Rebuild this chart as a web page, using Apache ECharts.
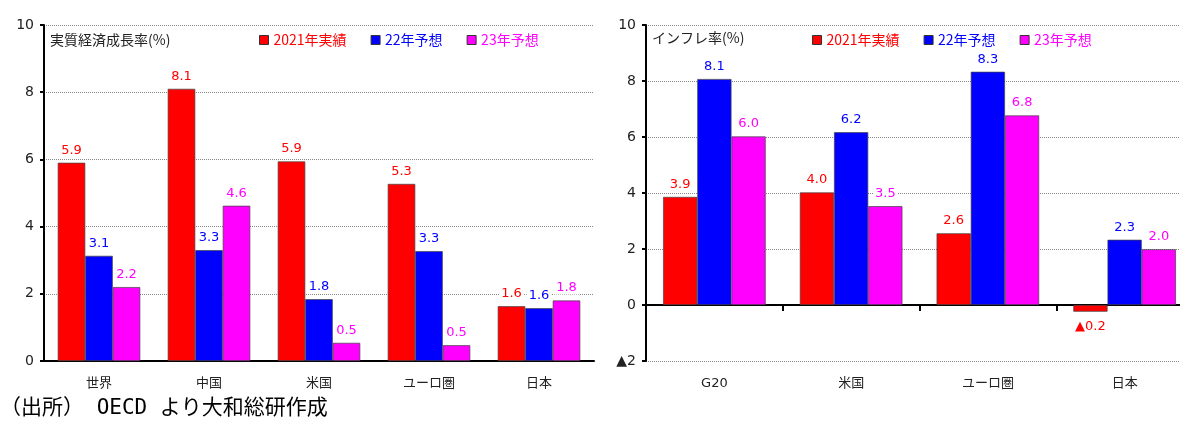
<!DOCTYPE html>
<html>
<head>
<meta charset="utf-8">
<script src="https://cdn.jsdelivr.net/npm/echarts@6/dist/echarts.min.js"></script>
<style>
  html, body { margin: 0; padding: 0; background: #fff; overflow: hidden; }
  /* 右のグラフは画像の右端で切れているので少し広く描く */
  #chart { width: 1200px; height: 424px; }
</style>
</head>
<body>
<div id="chart"></div>
<script>
// 実質経済成長率
const gdpCats = ['世界', '中国', '米国', 'ユーロ圏', '日本'];
const gdp2021 = [5.9, 8.1, 5.94, 5.27, 1.63];
const gdp2022 = [3.13, 3.3, 1.84, 3.27, 1.57];
const gdp2023 = [2.2, 4.62, 0.54, 0.47, 1.8];

// インフレ率
const cpiCats = ['G20', '米国', 'ユーロ圏', '日本'];
const cpi2021 = [3.86, 4.02, 2.56, -0.24];
const cpi2022 = [8.07, 6.17, 8.33, 2.33];
const cpi2023 = [6.02, 3.53, 6.77, 1.99];

const seriesNames = ['2021年実績', '22年予想', '23年予想'];
const colors = ['#ff0000', '#0000ff', '#ff00ff'];

const fmt = v => (v < 0 ? '▲' + Math.abs(v).toFixed(1) : v.toFixed(1));
const numFont = 'DejaVu Sans';
const jpFont = 'Noto Sans CJK JP';

function bars(data, i, axis) {
  return {
    name: seriesNames[i],
    type: 'bar',
    xAxisIndex: axis,
    yAxisIndex: axis === 0 ? 0 : 1,
    barGap: '0%',
    barCategoryGap: '25%',
    itemStyle: { color: colors[i], borderColor: '#444', borderWidth: 0.7 },
    label: {
      show: true,
      position: 'top',
      distance: 6,
      color: colors[i],
      fontFamily: numFont,
      fontSize: 13,
      backgroundColor: '#fff',
      padding: [0, 2],
      formatter: p => fmt(p.value)
    },
    // マイナスの値はラベルを棒の下に
    data: data.map(v => v < 0 ? { value: v, label: { position: 'bottom', distance: 8 } } : v),
    animation: false
  };
}

function legend(left) {
  return {
    left: left,
    top: 33,
    padding: 0,
    itemWidth: 9,
    itemHeight: 9,
    itemGap: 24,
    icon: 'rect',
    itemStyle: { borderColor: '#333', borderWidth: 1 },
    textStyle: { fontFamily: jpFont, fontSize: 14 },
    data: seriesNames.map((n, i) => ({ name: n, textStyle: { color: colors[i] } }))
  };
}

const yCommon = {
  type: 'value',
  interval: 2,
  axisLine: { show: true, lineStyle: { color: '#000', width: 2 } },
  axisTick: { show: true, length: 4, lineStyle: { color: '#000', width: 2 } },
  axisLabel: { color: '#222', fontFamily: numFont, fontSize: 14, margin: 10,
    formatter: v => (v < 0 ? '▲' + Math.abs(v) : String(v)) },
  splitLine: { show: true, lineStyle: { color: '#888', type: [1, 1], width: 1 } }
};

const xLabel = { color: '#222', fontFamily: "'DejaVu Sans', 'Noto Sans CJK JP'", fontSize: 13, margin: 16 };

const chart = echarts.init(document.getElementById('chart'));
chart.setOption({
  animation: false,
  title: [
    { text: '実質経済成長率(%)', left: 50, top: 33, padding: 0,
      textStyle: { fontFamily: jpFont, fontSize: 14, fontWeight: 'normal', color: '#222' } },
    { text: 'インフレ率(%)', left: 652, top: 31, padding: 0,
      textStyle: { fontFamily: jpFont, fontSize: 14, fontWeight: 'normal', color: '#222' } },
    { text: '（出所） OECD より大和総研作成', left: 0, top: 398, padding: 0,
      textStyle: { fontFamily: "'DejaVu Sans Mono', 'Noto Sans CJK JP'", fontSize: 21,
        fontWeight: 'normal', color: '#000' } }
  ],
  legend: [legend(259), legend(812)],
  grid: [
    { left: 44, right: 606, top: 25, bottom: 63 },
    { left: 646, right: 7, top: 25, bottom: 63 }
  ],
  xAxis: [
    { type: 'category', gridIndex: 0, data: gdpCats,
      axisLine: { lineStyle: { color: '#000', width: 2 } },
      axisTick: { length: 6, lineStyle: { color: '#000', width: 2 } },
      axisLabel: xLabel },
    // ラベルはグリッドの下端、軸線は0の位置
    { type: 'category', gridIndex: 1, data: cpiCats, position: 'bottom',
      axisLine: { show: false, onZero: false },
      axisTick: { show: false },
      axisLabel: xLabel },
    { type: 'category', gridIndex: 1, data: cpiCats, position: 'bottom',
      axisLine: { show: true, onZero: true, lineStyle: { color: '#000', width: 2 } },
      axisTick: { show: true, length: 6, lineStyle: { color: '#000', width: 2 } },
      axisLabel: { show: false } }
  ],
  yAxis: [
    Object.assign({}, yCommon, { gridIndex: 0, min: 0, max: 10 }),
    Object.assign({}, yCommon, { gridIndex: 1, min: -2, max: 10 })
  ],
  series: [
    bars(gdp2021, 0, 0), bars(gdp2022, 1, 0), bars(gdp2023, 2, 0),
    bars(cpi2021, 0, 1), bars(cpi2022, 1, 1), bars(cpi2023, 2, 1)
  ]
});
</script>
</body>
</html>
